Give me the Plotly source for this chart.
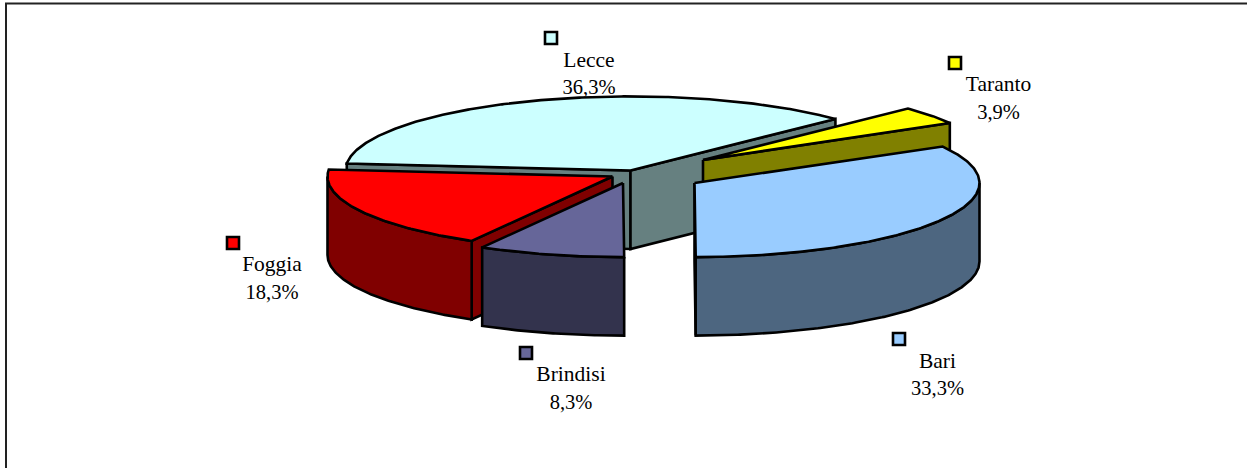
import numpy as np
import plotly.graph_objects as go

# ---- data ----
categories = ["Bari", "Brindisi", "Foggia", "Lecce", "Taranto"]
shares = [33.3, 8.3, 18.3, 36.3, 3.9]
tick_labels = ["33,3%", "8,3%", "18,3%", "36,3%", "3,9%"]

# ---- styles ----
top_colors = ["#99CCFF", "#666699", "#FF0000", "#CCFFFF", "#FFFF00"]
side_colors = ["#4D6680", "#33334D", "#800000", "#668080", "#808000"]
FIRST_ANGLE = 60.0
RADIUS = 285.0
TILT = 0.26
DEPTH = 78.5
W, H = 1247, 468
apex_x = [694.5, 623, 612.5, 630.5, 703]
apex_y = [183, 183, 176.5, 170.5, 160]
key_x = [899, 526, 233, 551, 955]
key_y = [339, 353, 243, 38, 63]
text_x = [937.5, 571, 272, 589, 998.5]
name_y = [362.5, 375.5, 265.5, 61.5, 86]
pct_y = [389.5, 403.5, 293.5, 88.5, 114]
draw_order = [3, 4, 2, 1, 0]

total = sum(shares)
spans = [s / total * 360 for s in shares]
starts = [FIRST_ANGLE + sum(spans[:i]) for i in range(len(spans))]


def rim(ax, ay, a0, a1, drop=0.0):
    t = np.radians(np.linspace(a0, a1, max(2, int(abs(a1 - a0) * 2) + 2)))
    return ax + RADIUS * np.sin(t), ay - RADIUS * TILT * np.cos(t) + drop


def face(xs, ys, color):
    return go.Scatter(
        x=list(xs) + [xs[0]], y=list(ys) + [ys[0]], mode="lines", fill="toself",
        fillcolor=color, line=dict(color="black", width=2.6),
        hoverinfo="skip", showlegend=False,
    )


def cut(ax, ay, a, color):
    rx, ry = rim(ax, ay, a, a + 0.001)
    return face([ax, rx[0], rx[0], ax], [ay, ry[0], ry[0] + DEPTH, ay + DEPTH], color)


fig = go.Figure()
for i in draw_order:
    ax, ay = apex_x[i], apex_y[i]
    a0, a1 = starts[i], starts[i] + spans[i]
    if 180 < a0 % 360 < 360:
        fig.add_trace(cut(ax, ay, a0, side_colors[i]))
    if 0 < a1 % 360 < 180:
        fig.add_trace(cut(ax, ay, a1, side_colors[i]))
    v0, v1 = max(a0, 90), min(a1, 270)
    if v1 > v0:
        tx, ty = rim(ax, ay, v0, v1)
        bx, by = rim(ax, ay, v1, v0, DEPTH)
        fig.add_trace(face(np.r_[tx, bx], np.r_[ty, by], side_colors[i]))
    rx, ry = rim(ax, ay, a0, a1)
    fig.add_trace(face(np.r_[ax, rx], np.r_[ay, ry], top_colors[i]))

fig.add_trace(go.Scatter(
    x=key_x, y=key_y, mode="markers", hoverinfo="skip", showlegend=False,
    marker=dict(symbol="square", size=12, color=top_colors, line=dict(color="black", width=2.6)),
))
fig.add_trace(go.Scatter(x=text_x, y=name_y, mode="text", text=categories,
                         textfont=dict(family="Liberation Serif", size=21.5, color="black"),
                         textposition="middle center", hoverinfo="skip", showlegend=False))
fig.add_trace(go.Scatter(x=text_x, y=pct_y, mode="text", text=tick_labels,
                         textfont=dict(family="Liberation Serif", size=20.5, color="black"),
                         textposition="middle center", hoverinfo="skip", showlegend=False))

fig.update_layout(
    width=W, height=H, margin=dict(l=0, r=0, t=0, b=0),
    paper_bgcolor="white", plot_bgcolor="white",
    xaxis=dict(range=[0, W], visible=False),
    yaxis=dict(range=[H, 0], visible=False),
    shapes=[dict(type="rect", x0=6, y0=3.5, x1=W + 10, y1=H + 10,
                 line=dict(color="#222222", width=2), layer="below")],
)
fig.write_html("out.html", config={"displayModeBar": False},
               post_script="document.body.style.margin='0';document.body.style.overflow='hidden';")
